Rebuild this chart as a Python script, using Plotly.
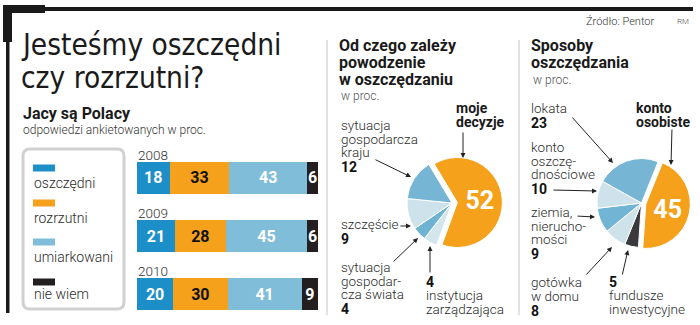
import plotly.graph_objects as go

# ---------------- data ----------------
years = ["2008", "2009", "2010"]
attitudes = ["oszczędni", "rozrzutni", "umiarkowani", "nie wiem"]
att_values = {
    "oszczędni": [18, 21, 20],
    "rozrzutni": [33, 28, 30],
    "umiarkowani": [43, 45, 41],
    "nie wiem": [6, 6, 9],
}
att_colors = ["#1c8ec8", "#f5a11c", "#80bdd8", "#231f20"]
att_textcolors = ["white", "#111111", "white", "white"]

success_labels = ["moje decyzje", "instytucja zarządzająca", "sytuacja gospodarcza świata",
                  "szczęście", "sytuacja gospodarcza kraju"]
success_values = [52, 4, 4, 9, 12]
success_colors = ["#f5a11c", "#d3e6ee", "#6fb3d3", "#cde2eb", "#76b6d4"]

ways_labels = ["konto osobiste", "fundusze inwestycyjne", "gotówka w domu",
               "ziemia, nieruchomości", "konto oszczędnościowe", "lokata"]
ways_values = [45, 5, 8, 9, 10, 23]
ways_colors = ["#f5a11c", "#3a3a3c", "#cde2eb", "#72b4d3", "#cde2eb", "#76b6d4"]

W, H = 700, 325
FONT = "Roboto, Arial, sans-serif"
TITLE_FONT = "DejaVu Sans Condensed, Roboto, sans-serif"
TXT = "#2b2b2b"

fig = go.Figure()

# ---------------- stacked bars ----------------
for i, a in enumerate(attitudes):
    fig.add_trace(go.Bar(
        y=years, x=att_values[a], orientation="h", name=a,
        marker=dict(color=att_colors[i], line=dict(width=0)),
        text=[str(v) for v in att_values[a]], textposition="inside",
        insidetextanchor="middle", textangle=0, constraintext="none",
        textfont=dict(family=FONT, size=16, color=att_textcolors[i], weight="bold"),
        xaxis="x2", yaxis="y2", showlegend=False, hoverinfo="skip",
    ))

# ---------------- pies ----------------
def px_domain(cx, cy, half):
    return dict(x=[(cx - half) / W, (cx + half) / W],
                y=[1 - (cy + half) / H, 1 - (cy - half) / H])

fig.add_trace(go.Pie(
    labels=success_labels, values=success_values, sort=False, direction="clockwise",
    rotation=-31, pull=[0.12, 0, 0, 0, 0],
    marker=dict(colors=success_colors, line=dict(color="white", width=1)),
    texttemplate=[str(success_values[0]), "", "", "", ""], textinfo="text",
    textposition="inside", insidetextorientation="horizontal",
    textfont=dict(family=FONT, size=25, color="white", weight="bold"),
    domain=px_domain(452, 203, 45 * 1.12), showlegend=False, hoverinfo="skip",
))
fig.add_trace(go.Pie(
    labels=ways_labels, values=ways_values, sort=False, direction="clockwise",
    rotation=22, pull=[0.1, 0, 0, 0, 0, 0],
    marker=dict(colors=ways_colors, line=dict(color="white", width=1)),
    texttemplate=[str(ways_values[0]), "", "", "", "", ""], textinfo="text",
    textposition="inside", insidetextorientation="horizontal",
    textfont=dict(family=FONT, size=25, color="white", weight="bold"),
    domain=px_domain(641.5, 203, 44.5 * 1.1), showlegend=False, hoverinfo="skip",
))

# ---------------- decorations ----------------
shapes = []
def rect(x0, y0, x1, y1, color):
    shapes.append(dict(type="rect", xref="x", yref="y", x0=x0, y0=y0, x1=x1, y1=y1,
                       fillcolor=color, line=dict(width=0), layer="above"))
def line(x0, y0, x1, y1, color, width):
    shapes.append(dict(type="line", xref="x", yref="y", x0=x0, y0=y0, x1=x1, y1=y1,
                       line=dict(color=color, width=width)))

rect(5, 7, 693, 11, "#1a1a1a")        # top rule
rect(3, 5, 45, 13, "#1a1a1a")         # corner top
rect(3, 5, 12, 42, "#1a1a1a")         # corner left
rect(6, 42, 9.5, 313, "#1a1a1a")      # left thin rule
line(327, 40, 327, 315, "#e2e2e2", 2)  # separators
line(519, 40, 519, 315, "#e2e2e2", 2)

# legend rounded box
x0, y0, x1, y1, r = 23, 149, 124, 309, 7
path = (f"M {x0+r},{y0} L {x1-r},{y0} Q {x1},{y0} {x1},{y0+r} L {x1},{y1-r} "
        f"Q {x1},{y1} {x1-r},{y1} L {x0+r},{y1} Q {x0},{y1} {x0},{y1-r} "
        f"L {x0},{y0+r} Q {x0},{y0} {x0+r},{y0} Z")
shapes.append(dict(type="path", xref="x", yref="y", path=path,
                   line=dict(color="#d0d0d0", width=3), fillcolor="rgba(0,0,0,0)"))

annotations = []
def txt(x, y, s, size=13.5, bold=False, color=TXT, family=FONT, anchor="left", weight=None):
    w = weight if weight is not None else ("bold" if bold else 300)
    annotations.append(dict(xref="x", yref="y", x=x, y=y, text=s, showarrow=False,
                            xanchor=anchor, yanchor="middle", borderpad=0,
                            font=dict(family=family, size=size, color=color, weight=w)))
def lines(x, y, items, dy=13.5, size=13.5, bold_last=True):
    for k, s in enumerate(items):
        b = bold_last and k == len(items) - 1
        txt(x, y + k * dy + (1.5 if b else 0), s, size=(14 if b else size), bold=b,
            color=("#111" if b else TXT))
def arrow(tx, ty, hx, hy):
    annotations.append(dict(xref="x", yref="y", axref="x", ayref="y", x=hx, y=hy,
                            ax=tx, ay=ty, text="", showarrow=True, arrowhead=2,
                            arrowsize=1, arrowwidth=1, arrowcolor="#222"))

# legend entries
leg_y = [168, 203, 242, 282]
leg_t = [183, 218, 257, 294]
for i, a in enumerate(attitudes):
    rect(33, leg_y[i] - 3.5, 55, leg_y[i] + 3.5, att_colors[i])
    txt(33, leg_t[i], a, size=14)

# year labels above bars (category index positions on the bar axis)
for k, yr in enumerate(years):
    annotations.append(dict(xref="x2", yref="y2", x=0, y=k, text=yr, showarrow=False,
                            xanchor="left", yanchor="middle", yshift=23, borderpad=0,
                            font=dict(family=FONT, size=13.5, color="#333", weight=300)))

# titles
txt(20, 45, "Jesteśmy oszczędni", size=29.5, family=TITLE_FONT, color="#1a1a1a", weight="normal")
txt(20, 78, "czy rozrzutni?", size=29.5, family=TITLE_FONT, color="#1a1a1a", weight="normal")
txt(22, 113, "Jacy są Polacy", size=16, bold=True, color="#1a1a1a")
txt(22, 130, "odpowiedzi ankietowanych w proc.", size=12, color="#333")

txt(585, 21, "Źródło: Pentor", size=11, color="#333")
txt(676, 21, "RM", size=8, color="#555")

# middle panel
txt(338, 45, "Od czego zależy", size=16, bold=True, color="#1a1a1a")
txt(338, 62, "powodzenie", size=16, bold=True, color="#1a1a1a")
txt(338, 79, "w oszczędzaniu", size=16, bold=True, color="#1a1a1a")
txt(340, 96, "w proc.", size=12, color="#555")
txt(455, 108, "moje", size=14, bold=True, color="#1a1a1a")
txt(455, 122, "decyzje", size=14, bold=True, color="#1a1a1a")
arrow(463, 131, 463, 158)
lines(340, 125, ["sytuacja", "gospodarcza", "kraju", str(success_values[4])])
arrow(374, 159, 411, 177)
lines(340, 224, ["szczęście", str(success_values[3])])
arrow(399, 226, 411, 226)
lines(340, 267, ["sytuacja", "gospodar-", "cza świata", str(success_values[2])])
arrow(392, 263, 418, 238)
txt(425, 282, str(success_values[1]), size=14, bold=True, color="#111")
lines(425, 295, ["instytucja", "zarządzająca"], bold_last=False)
arrow(430, 274, 430, 246)

# right panel
txt(530, 45, "Sposoby", size=16, bold=True, color="#1a1a1a")
txt(530, 62, "oszczędzania", size=16, bold=True, color="#1a1a1a")
txt(532, 80, "w proc.", size=12, color="#555")
lines(530, 108, ["lokata", str(ways_values[5])])
arrow(571, 116, 613, 163)
lines(530, 147, ["konto", "oszczę-", "dnościowe", str(ways_values[4])])
arrow(552, 190, 597, 191)
lines(530, 212, ["ziemia,", "nierucho-", "mości", str(ways_values[3])])
arrow(576, 216, 595, 217)
lines(530, 282, ["gotówka", "w domu", str(ways_values[2])])
arrow(585, 276, 612, 247)
txt(608, 282, str(ways_values[1]), size=14, bold=True, color="#111")
lines(608, 295, ["fundusze", "inwestycyjne"], bold_last=False)
arrow(622, 276, 628, 250)
txt(635, 108, "konto", size=14, bold=True, color="#1a1a1a")
txt(635, 122, "osobiste", size=14, bold=True, color="#1a1a1a")
arrow(672, 128, 671, 165)

# ---------------- layout ----------------
bx0, bx1, by0, by1 = 137, 318, 162, 310
fig.update_layout(
    width=W, height=H, margin=dict(l=0, r=0, t=0, b=0),
    paper_bgcolor="white", plot_bgcolor="rgba(0,0,0,0)",
    barmode="stack", bargap=0.45,
    uniformtext=dict(minsize=12, mode="show"),
    xaxis=dict(range=[0, W], domain=[0, 1], visible=False, fixedrange=True),
    yaxis=dict(range=[H, 0], domain=[0, 1], visible=False, fixedrange=True),
    xaxis2=dict(domain=[bx0 / W, bx1 / W], range=[0, 100], visible=False,
                anchor="y2", fixedrange=True),
    yaxis2=dict(domain=[1 - by1 / H, 1 - by0 / H], type="category",
                categoryorder="array", categoryarray=years, range=[2.275, -0.275],
                visible=False, anchor="x2", fixedrange=True),
    shapes=shapes, annotations=annotations,
)

fig.write_html("out.html")
